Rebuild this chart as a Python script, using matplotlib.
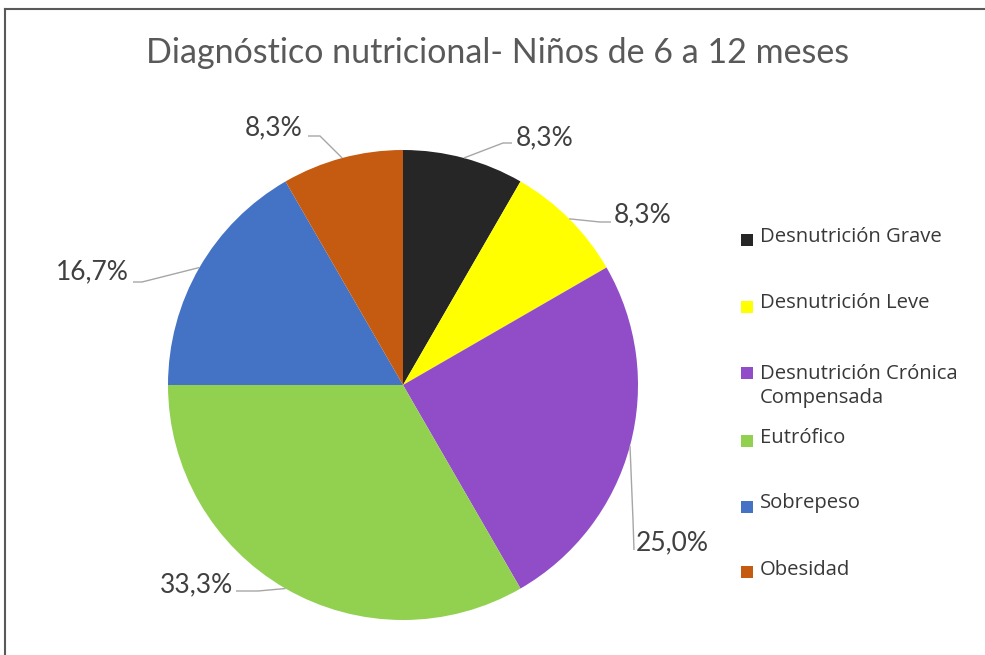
import numpy as np
import matplotlib
matplotlib.use("Agg")
import matplotlib.pyplot as plt
from matplotlib.patches import Rectangle

plt.rcParams['font.family'] = ['Lato', 'DejaVu Sans']

# ---- data ----
categories = ["Desnutrición Grave", "Desnutrición Leve",
              "Desnutrición Crónica\nCompensada", "Eutrófico",
              "Sobrepeso", "Obesidad"]
values = [1, 1, 3, 4, 2, 1]
colors = ["#262626", "#FFFF00", "#914DC7", "#92D050", "#4472C4", "#C55A11"]
title = "Diagnóstico nutricional- Niños de 6 a 12 meses"

W, H = 985, 655
fig = plt.figure(figsize=(W / 100, H / 100), dpi=100)
ax = fig.add_axes([0, 0, 1, 1])

# pie geometry in pixels
cx, cy, R = 403, 385, 235

def d(px, py):
    return ((px - cx) / R, (cy - py) / R)

wedges, _ = ax.pie(values, colors=colors, startangle=90, counterclock=False,
                   radius=1, wedgeprops=dict(linewidth=0))
ax.set_xlim(-cx / R, (W - cx) / R)
ax.set_ylim(-(H - cy) / R, cy / R)
ax.set_aspect('auto')
ax.axis('off')

total = sum(values)
pcts = [v / total * 100 for v in values]
# label layout (pixels): text x, text y, ha, elbow, end
layout = [
    (516, 138, 'left', (503, 143), (512, 143)),
    (614, 215, 'left', (600, 222), (611, 222)),
    (636, 543, 'left', (633, 520), (634, 550)),
    (233, 585, 'right', (258, 591), (236, 591)),
    (129, 272, 'right', (142, 282), (133, 282)),
    (303, 128, 'right', (320, 136), (308, 136)),
]
for w, p, (tx, ty, ha, elb, end) in zip(wedges, pcts, layout):
    mid = np.deg2rad((w.theta1 + w.theta2) / 2)
    ex, ey = np.cos(mid), np.sin(mid)
    e1 = d(*elb)
    e2 = d(*end)
    ax.plot([ex, e1[0], e2[0]], [ey, e1[1], e2[1]], color="#A6A6A6", lw=1.0,
            solid_capstyle='butt')
    lx, ly = d(tx, ty)
    ax.text(lx, ly, f"{p:.1f}%".replace('.', ','), ha=ha, va='center',
            fontsize=19, color="#404040")

# title
fig.text(498 / W, 1 - 53 / H, title, ha='center', va='center',
         fontsize=24.5, color="#595959")

# legend (manual)
leg_text_y = [237, 303, 386, 438, 503, 570]
leg_sq_y = [240, 307, 373, 441, 507, 572]
for lab, col, ty, sy in zip(categories, colors, leg_text_y, leg_sq_y):
    fig.patches.append(Rectangle((741 / W, 1 - (sy + 6) / H), 12 / W, 12 / H,
                                 transform=fig.transFigure, facecolor=col,
                                 edgecolor='none'))
    fig.text(760 / W, 1 - ty / H, lab, ha='left', va='center', fontsize=14.6,
             color="#383838", linespacing=1.28,
             family=['Open Sans', 'DejaVu Sans'])

# frame lines (top and left)
fig.add_artist(plt.Line2D([5 / W, 1], [1 - 9 / H, 1 - 9 / H],
                          transform=fig.transFigure, color="#595959", lw=1.5))
fig.add_artist(plt.Line2D([5 / W, 5 / W], [0, 1 - 9 / H],
                          transform=fig.transFigure, color="#595959", lw=1.5))

fig.savefig("out.png", dpi=100, facecolor="white")
